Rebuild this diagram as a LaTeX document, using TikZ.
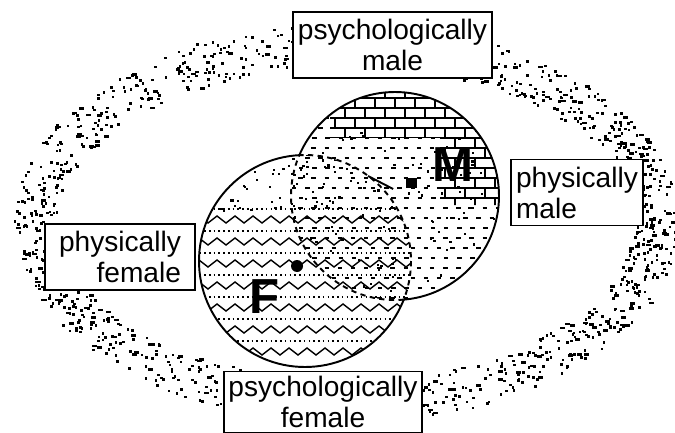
\documentclass[tikz,border=0pt]{standalone}
\usepackage{fontspec}
\newfontfamily\boxfont{Liberation Sans}
\usetikzlibrary{calc}
\definecolor{ink}{HTML}{000000}
\tikzset{box/.style={draw=ink,fill=white,line width=1.1pt,inner sep=2pt,minimum height=1.32cm,
    font=\boxfont\fontsize{16}{17.6}\selectfont},
  rim/.style={draw=ink,line width=1.1pt},
  hid/.style={draw=ink,line width=1.1pt,dash pattern=on 3pt off 2.5pt},
  brick/.style={draw=ink,line width=1.1pt},
  broken/.style={draw=ink,line width=1pt,dash pattern=on 2.5pt off 5pt},
  zig/.style={draw=ink,line width=0.8pt},
  dotrow/.style={draw=ink,line width=1pt,dash pattern=on 0.9pt off 1.8pt},
  speck/.style={fill=ink},
  big/.style={font=\boxfont\bfseries\fontsize{28}{28}\selectfont,inner sep=0pt},
  hub/.style={fill=ink,inner sep=0pt}}

\begin{document}
\begin{tikzpicture}[x=0.02cm,y=-0.02cm]
  \useasboundingbox (0,0) rectangle (675,432);
  \coordinate (cF) at (305,261);
  \coordinate (cM) at (395,196);
  % stippled ring
  \pgfmathsetseed{2741}
  \foreach \k in {1,...,1250}{
    \pgfmathsetmacro\ang{360*rnd}
    \pgfmathsetmacro\off{44*rnd-22}
    \pgfmathsetmacro\w{rnd<0.15 ? 5 : 2.6}
    \fill[speck] ({345+(310+\off)*cos(\ang)},{222+(178+\off)*sin(\ang)}) rectangle ++(\w,2.6);
  }
  % female circle: zigzags and dotted rows
  \begin{scope}
    \clip (cF) circle (106);
    \foreach \row in {0,...,6}{
      \pgfmathsetmacro\yz{223+22*\row}
      \draw[zig] (190,\yz) \foreach \j in {0,...,12}{ -- ++(9,-7) -- ++(9,7)};
      \draw[dotrow] (190,\yz-14) -- (420,\yz-14);
    }
    \foreach \k in {1,...,90}{
      \pgfmathsetmacro\px{200+210*rnd}
      \pgfmathsetmacro\py{150+60*rnd}
      \fill[speck] (\px,\py) rectangle ++(2.2,2.2);
    }
  \end{scope}
  % male circle: broken bricks, solid bricks up top
  \begin{scope}
    \clip (cM) circle (104);
    \foreach \row in {0,...,21}{
      \pgfmathsetmacro\yb{88+10*\row}
      \pgfmathsetmacro\sh{7*mod(\row,3)}
      \draw[broken] (285+\sh,\yb) -- (505,\yb);
    }
    \foreach \k in {1,...,110}{
      \pgfmathsetmacro\px{290+210*rnd}
      \pgfmathsetmacro\py{130+170*rnd}
      \fill[speck] (\px,\py) rectangle ++(2.2,2.2);
    }
    \clip (330,80) -- (520,80) -- (520,205) -- (440,205) -- (440,138) -- (330,138) -- cycle;
    \foreach \row in {0,...,12}{
      \pgfmathsetmacro\yb{88+10*\row}
      \pgfmathsetmacro\sh{10*mod(\row,2)}
      \draw[brick] (285,\yb) -- (505,\yb);
      \foreach \col in {0,...,11}
        \draw[brick] (285+\sh+20*\col,\yb) -- ++(0,10);
    }
  \end{scope}
  % outlines, dashed where the circles overlap
  \begin{scope}[even odd rule]
    \clip (0,0) rectangle (675,432) (cM) circle (104);
    \draw[rim] (cF) circle (106);
  \end{scope}
  \begin{scope}[even odd rule]
    \clip (0,0) rectangle (675,432) (cF) circle (106);
    \draw[rim] (cM) circle (104);
  \end{scope}
  \begin{scope}
    \clip (cM) circle (104);
    \draw[hid] (cF) circle (106);
  \end{scope}
  \begin{scope}
    \clip (cF) circle (106);
    \draw[hid] (cM) circle (104);
  \end{scope}

  \node[hub,circle,minimum size=0.24cm] (hubF) at (297,266) {};
  \node[hub,minimum size=0.22cm] (hubM) at (411,183) {};
  \coordinate (tick) at (368,176);
  \draw[rim] (tick) -- ($(hubM.west)+(-12,6)$);
  \node[big] (letM) at (453,165) {M};
  \node[big] (letF) at (265,297) {F};

  \node[box,minimum width=3.98cm,align=center] (psyMale) at (392.5,45) {psychologically\\male};
  \node[box,minimum width=2.64cm,align=left] (physMale) at (577,192.5) {physically\\male};
  \node[box,minimum width=3cm,align=right] (physFemale) at (120,257) {physically\\female};
  \node[box,minimum width=3.96cm,minimum height=1.22cm,align=center] (psyFemale) at (323,402) {psychologically\\female};
\end{tikzpicture}
\end{document}
